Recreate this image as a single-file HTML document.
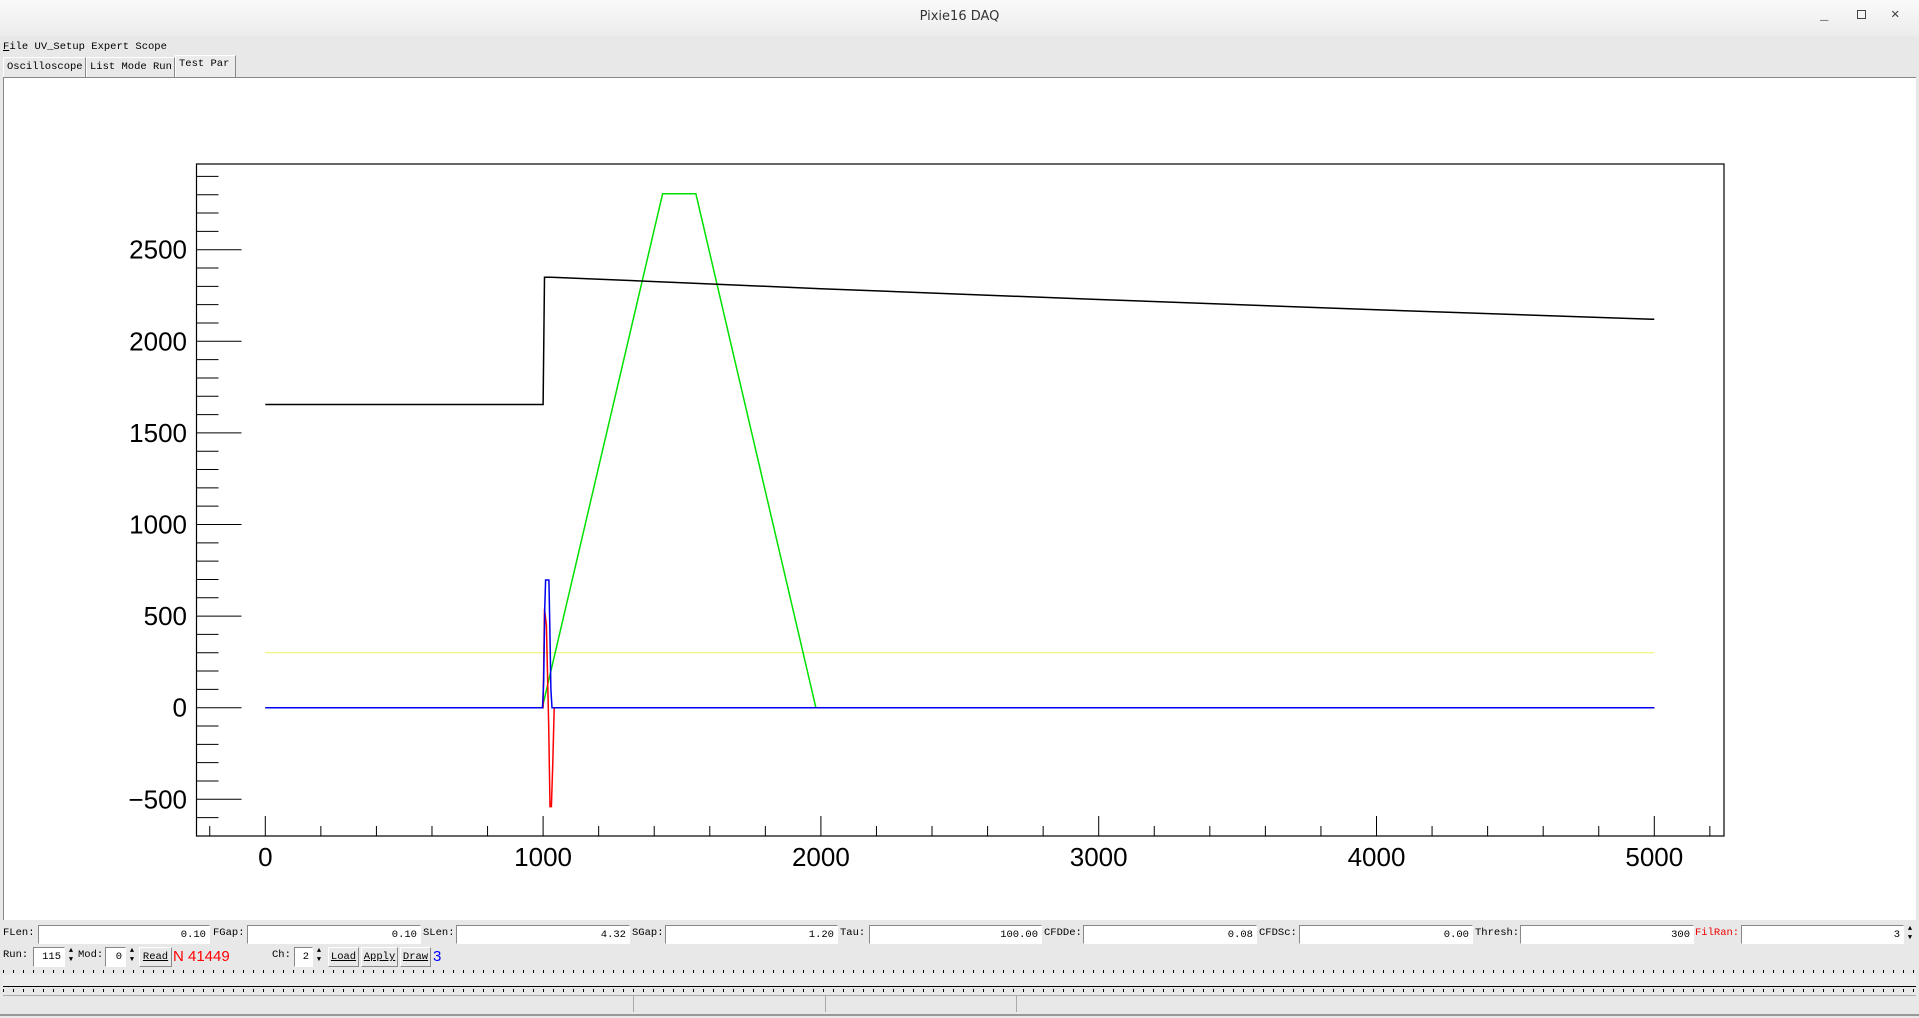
<!DOCTYPE html>
<html><head><meta charset="utf-8"><style>
body{margin:0;width:1919px;height:1018px;background:#e8e8e8;position:relative;overflow:hidden;font-family:"Liberation Mono","DejaVu Sans Mono",monospace;font-size:10.5px;color:#000}
.abs{position:absolute}
.inp{position:absolute;background:#fff;border-top:1px solid #888;border-left:1px solid #888;border-bottom:1px solid #fff;border-right:1px solid #fff;height:19px;box-sizing:border-box;text-align:right;padding-right:3px;line-height:18px;font-size:10.5px}
.lbl{position:absolute;font-size:10.5px;line-height:14px}
.btn{position:absolute;border:1px solid #fff;border-right-color:#888;border-bottom-color:#888;box-sizing:border-box;height:20px;line-height:18px;text-align:center;font-size:10.5px;text-decoration:underline}
.spin{position:absolute;width:12px;height:19px;box-sizing:border-box;font-size:7px;line-height:9px;text-align:center;background:#e8e8e8}
.tab{position:absolute;border:1px solid #fff;border-right-color:#888;border-bottom:none;box-sizing:border-box;font-size:10.5px;padding-left:3px;line-height:18px;white-space:nowrap;overflow:hidden}
</style></head><body>
<div class="abs" style="left:0;top:0;width:1919px;height:36px;background:linear-gradient(#fafafa,#ececec)"></div>
<div class="abs" style="left:0;top:9px;width:1919px;text-align:center;font-family:'DejaVu Sans',sans-serif;font-size:13px;color:#333">Pixie16 DAQ</div>
<div class="abs" style="left:1820px;top:8px;font-size:14px;color:#444">_</div>
<div class="abs" style="left:1857px;top:10px;width:7px;height:7px;border:1px solid #444"></div>
<div class="abs" style="left:1891px;top:6px;font-size:14px;color:#444">✕</div>
<div class="lbl" style="left:3px;top:40px"><span><u>F</u>ile</span> <span>UV_Setup</span> <span>Expert</span> <span>Scope</span></div>
<div class="tab" style="left:3px;top:57px;width:83px;height:20px">Oscilloscope</div>
<div class="tab" style="left:86px;top:57px;width:89px;height:20px">List Mode Run</div>
<div class="tab" style="left:175px;top:55px;width:61px;height:22px;line-height:16px;background:#ececec">Test Par</div>
<div class="abs" style="left:3px;top:77px;width:1913px;height:843px;background:#fff;border-top:1px solid #888;border-left:1px solid #888;box-sizing:border-box"></div>

<svg class="abs" style="left:0;top:0" width="1919" height="1018">
<g id="axes"></g><g id="series"></g>
</svg>

<div class="lbl" style="left:3px;top:926px">FLen:</div>
<div class="inp" style="left:38px;top:925px;width:172px">0.10</div>
<div class="lbl" style="left:213px;top:926px">FGap:</div>
<div class="inp" style="left:247px;top:925px;width:174px">0.10</div>
<div class="lbl" style="left:423px;top:926px">SLen:</div>
<div class="inp" style="left:456px;top:925px;width:174px">4.32</div>
<div class="lbl" style="left:632px;top:926px">SGap:</div>
<div class="inp" style="left:665px;top:925px;width:173px">1.20</div>
<div class="lbl" style="left:840px;top:926px">Tau:</div>
<div class="inp" style="left:869px;top:925px;width:173px">100.00</div>
<div class="lbl" style="left:1044px;top:926px">CFDDe:</div>
<div class="inp" style="left:1083px;top:925px;width:174px">0.08</div>
<div class="lbl" style="left:1259px;top:926px">CFDSc:</div>
<div class="inp" style="left:1299px;top:925px;width:174px">0.00</div>
<div class="lbl" style="left:1475px;top:926px">Thresh:</div>
<div class="inp" style="left:1520px;top:925px;width:174px">300</div>
<div class="lbl" style="left:1695px;top:926px;color:#e00">FilRan:</div>
<div class="inp" style="left:1741px;top:925px;width:163px">3</div>
<div class="spin" style="left:1904px;top:925px">▲<br>▼</div>

<div class="lbl" style="left:3px;top:948px">Run:</div>
<div class="inp" style="left:33px;top:947px;width:32px;height:20px">115</div>
<div class="spin" style="left:65px;top:947px;height:20px">▲<br>▼</div>
<div class="lbl" style="left:78px;top:948px">Mod:</div>
<div class="inp" style="left:105px;top:947px;width:21px;height:20px">0</div>
<div class="spin" style="left:126px;top:947px;height:20px">▲<br>▼</div>
<div class="btn" style="left:139px;top:947px;width:33px">Read</div>
<div class="abs" style="left:173px;top:948px;color:#f00;font-family:'Liberation Sans',sans-serif;font-size:15px">N 41449</div>
<div class="lbl" style="left:272px;top:948px">Ch:</div>
<div class="inp" style="left:294px;top:947px;width:19px;height:20px">2</div>
<div class="spin" style="left:313px;top:947px;height:20px">▲<br>▼</div>
<div class="btn" style="left:328px;top:947px;width:31px">Load</div>
<div class="btn" style="left:361px;top:947px;width:37px">Apply</div>
<div class="btn" style="left:400px;top:947px;width:31px">Draw</div>
<div class="abs" style="left:433px;top:948px;color:#00f;font-family:'Liberation Sans',sans-serif;font-size:15px">3</div>

<div class="abs" style="left:3px;top:970px;width:1913px;height:3px;background:repeating-linear-gradient(90deg,#000 0 1px,transparent 1px 10px)"></div>
<div class="abs" style="left:3px;top:975px;width:1913px;height:11px;border-bottom:1px solid #000;background:#ececec"></div>
<div class="abs" style="left:3px;top:989px;width:1913px;height:3px;background:repeating-linear-gradient(90deg,#000 0 1px,transparent 1px 10px)"></div>
<div class="abs" style="left:3px;top:995px;width:1913px;height:17px;border-top:1px solid #aaa;box-sizing:border-box"></div>
<div class="abs" style="left:633px;top:995px;width:1px;height:17px;background:#aaa"></div>
<div class="abs" style="left:825px;top:995px;width:1px;height:17px;background:#aaa"></div>
<div class="abs" style="left:1016px;top:995px;width:1px;height:17px;background:#aaa"></div>
<div class="abs" style="left:0;top:1014px;width:1919px;height:2px;background:#999"></div>

<script>
const xMajorTicks=[0,1000,2000,3000,4000,5000];
const xTickLabels=["0","1000","2000","3000","4000","5000"];
const yMajorTicks=[-500,0,500,1000,1500,2000,2500];
const yTickLabels=["\u2212500","0","500","1000","1500","2000","2500"];
const blackX=[0,1000,1005,1030,1500,2000,3000,4000,5000];
const blackY=[1655,1655,2350,2350,2320,2287,2228,2172,2120];
const greenX=[0,997,1430,1550,1982,5000];
const greenY=[0,0,2805,2805,0,0];
const redX=[0,1000,1005,1012,1020,1025,1030,1035,1040,5000];
const redY=[0,0,540,450,-100,-540,-540,-300,0,0];
const blueX=[0,998,1002,1006,1009,1021,1024,1028,1032,5000];
const blueY=[0,0,150,550,697,697,450,100,0,0];
const yellowX=[0,5000];
const yellowY=[300,300];

const X0=265.3,XK=0.2778,Y0=707.7,YK=0.1832;
const L=196.5,R=1724,T=164,B=836;
function xs(v){return X0+v*XK;}
function ys(v){return Y0-v*YK;}
const NS="http://www.w3.org/2000/svg";
const ax=document.getElementById('axes'),se=document.getElementById('series');
function mk(tag,attrs,parent){const e=document.createElementNS(NS,tag);for(const k in attrs)e.setAttribute(k,attrs[k]);parent.appendChild(e);return e;}
const fr=mk('rect',{x:L,y:T,width:R-L,height:B-T,fill:'none',stroke:'#000','stroke-width':1.2},ax);


for(let v=-600;v<=2900;v+=100){
  const major=yMajorTicks.includes(v);
  const t=mk('line',{x1:L,x2:L+(major?45:22),y1:ys(v),y2:ys(v),stroke:'#000','stroke-width':1},ax);
  
  
}
yMajorTicks.forEach((v,i)=>{
  const t=mk('text',{x:187,y:ys(v)+9,'text-anchor':'end','font-family':'Liberation Sans, sans-serif','font-size':26,fill:'#000'},ax);
  t.textContent=yTickLabels[i];
  
  
});
for(let v=-200;v<=5200;v+=200){
  const major=xMajorTicks.includes(v);
  const t=mk('line',{x1:xs(v),x2:xs(v),y1:B,y2:B-(major?20:10),stroke:'#000','stroke-width':1},ax);
  
  
}
xMajorTicks.forEach((v,i)=>{
  const t=mk('text',{x:xs(v),y:866,'text-anchor':'middle','font-family':'Liberation Sans, sans-serif','font-size':26,fill:'#000'},ax);
  t.textContent=xTickLabels[i];
  
  
});
function line(xa,ya,color,name,w){
  const p=xa.map((x,i)=>xs(x).toFixed(1)+','+ys(ya[i]).toFixed(1)).join(' ');
  const el=mk('polyline',{points:p,fill:'none',stroke:color,'stroke-width':w},se);
  
  
}
line(yellowX,yellowY,'#f0f060','threshold-line',1);
line(greenX,greenY,'#00e000','green-trace-energy-filter',1.5);
line(blackX,blackY,'#000','black-trace-waveform',1.5);
line(redX,redY,'#f00','red-trace-cfd',1.5);
line(blueX,blueY,'#0000f0','blue-trace-fast-filter',1.5);
</script>
</body></html>
